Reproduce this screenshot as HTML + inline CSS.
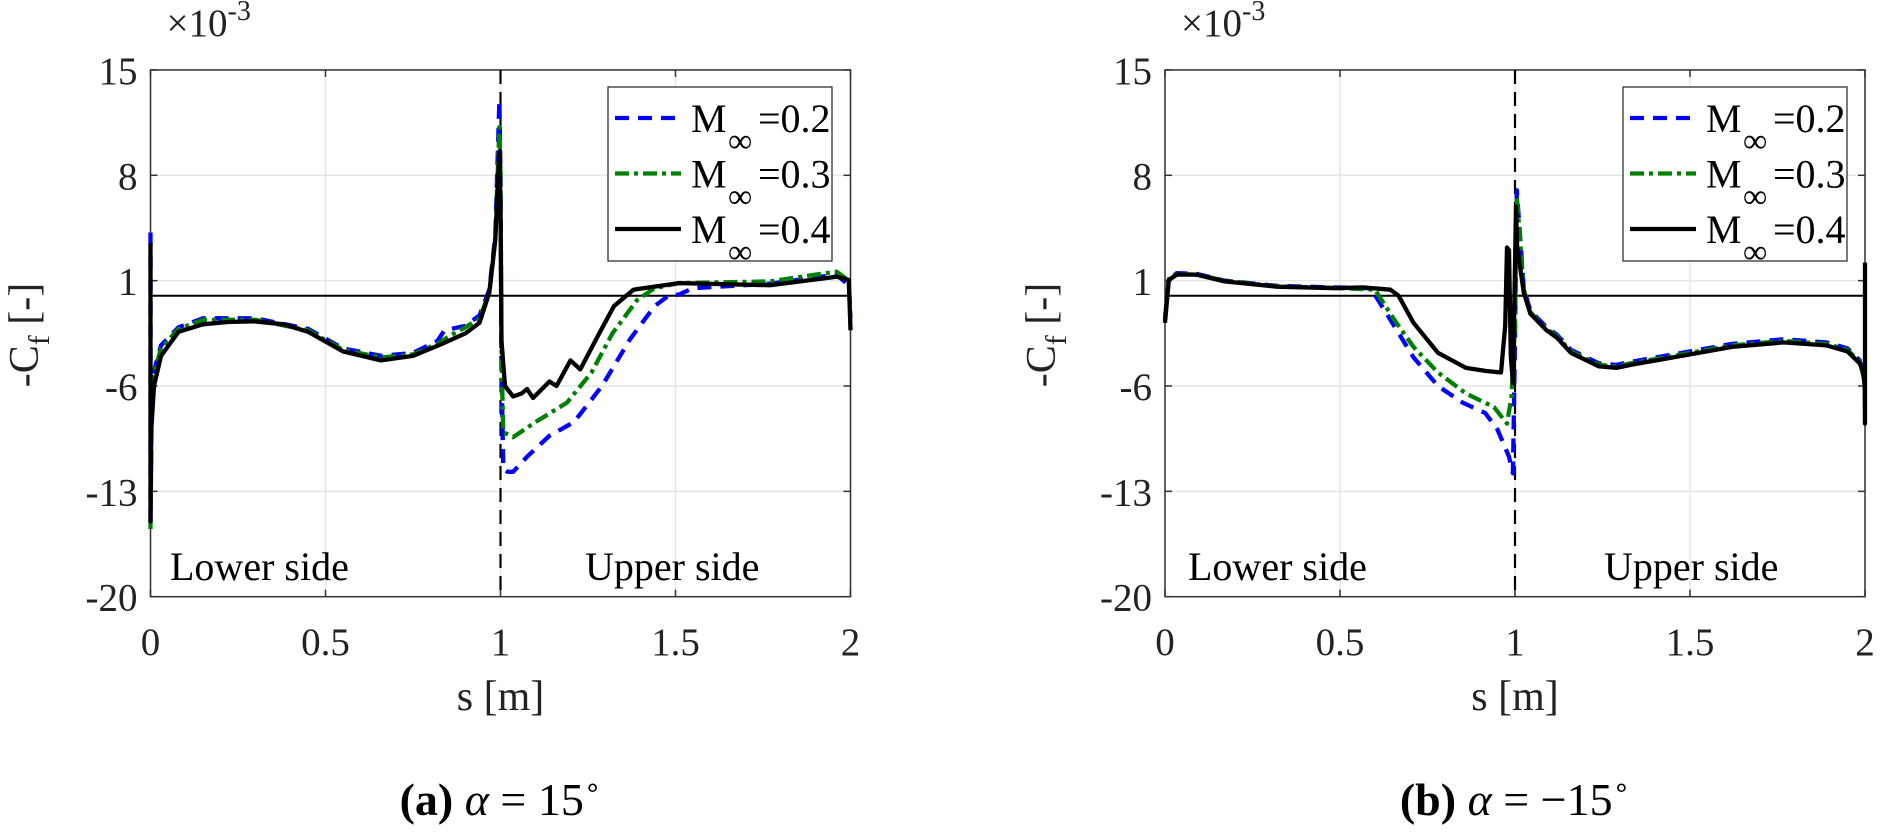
<!DOCTYPE html>
<html><head><meta charset="utf-8">
<style>
body{margin:0;background:#fff;}
svg{display:block;font-family:"Liberation Serif",serif;}
</style></head>
<body>
<svg id="fig" width="1892" height="834" viewBox="0 0 1892 834" xmlns="http://www.w3.org/2000/svg"></svg>
<script>
// ---- shared axis data ----
const yTicks = [15, 8, 1, -6, -13, -20];
const xTicks = [0, 0.5, 1, 1.5, 2];
const xTickLabels = ["0", "0.5", "1", "1.5", "2"];
const seriesNames = ["M0.2", "M0.3", "M0.4"];
const legendValues = ["=0.2", "=0.3", "=0.4"];

// ---- panel (a) alpha = 15 ----
const aS_blue = [0,0,0.003,0.01,0.03,0.08,0.15,0.3,0.45,0.55,0.66,0.75,0.82,0.84,0.9,0.94,0.968,0.985,0.997,1.0,1.003,1.008,1.02,1.036,1.076,1.14,1.21,1.29,1.37,1.44,1.48,1.51,1.55,1.77,1.96,1.995,2.0];
const aV_blue = [4.2,-15,-8,-5,-3.3,-2.1,-1.5,-1.5,-2.2,-3.5,-4.0,-3.8,-3.0,-2.3,-2.0,-1.3,0.4,4.0,13,8,-5,-11.5,-11.7,-11.7,-10.7,-9.3,-8.4,-6.0,-2.9,-0.7,0,0.07,0.5,0.8,1.4,0.7,-1.5];
const aS_green = [0,0,0.003,0.01,0.03,0.08,0.15,0.3,0.45,0.55,0.66,0.75,0.82,0.86,0.9,0.94,0.968,0.985,0.997,1.0,1.003,1.008,1.02,1.036,1.1,1.19,1.26,1.32,1.39,1.44,1.51,1.77,1.96,1.995,2.0];
const aV_green = [-15.5,-15.5,-8,-5.2,-3.5,-2.2,-1.6,-1.6,-2.3,-3.6,-4.1,-3.9,-3.2,-2.6,-2.1,-1.5,0.2,3.8,11.2,8,-4,-9.1,-9.2,-9.4,-8.4,-7.1,-5.1,-2.5,-0.3,0.5,0.84,0.95,1.6,1.0,-1.5];
const aS_black = [0,0,0.002,0.01,0.03,0.08,0.15,0.22,0.296,0.38,0.45,0.55,0.658,0.75,0.838,0.9,0.94,0.968,0.985,0.997,1.0,1.003,1.013,1.036,1.06,1.076,1.093,1.14,1.16,1.2,1.228,1.28,1.324,1.38,1.51,1.77,1.96,1.995,2.0];
const aV_black = [3.5,-15,-9,-6,-4,-2.4,-1.9,-1.75,-1.7,-1.9,-2.4,-3.7,-4.3,-4.0,-3.15,-2.5,-1.8,0.2,3.7,9.6,6,-3,-6,-6.7,-6.5,-6.2,-6.8,-5.7,-6.0,-4.3,-4.9,-2.6,-0.7,0.4,0.84,0.7,1.26,1.05,-2.3];

// ---- panel (b) alpha = -15 ----
const bS_blue = [0,0.011,0.034,0.09,0.17,0.32,0.49,0.588,0.644,0.71,0.78,0.85,0.915,0.95,0.983,0.994,1.0,1.005,1.025,1.044,1.09,1.12,1.16,1.24,1.29,1.33,1.5,1.62,1.767,1.89,1.95,1.985,1.998];
const bV_blue = [-1.5,1.1,1.5,1.45,1.0,0.65,0.55,0.5,-1.6,-4.1,-6.0,-7.1,-7.8,-8.9,-10.7,-11.8,-3,7.0,0.5,-1.0,-2.1,-2.6,-3.6,-4.5,-4.6,-4.4,-3.7,-3.2,-2.9,-3.1,-3.5,-4.3,-5.5];
const bS_green = [0,0.011,0.034,0.09,0.17,0.32,0.49,0.6,0.655,0.71,0.78,0.86,0.94,0.977,0.99,1.0,1.005,1.025,1.044,1.09,1.12,1.16,1.24,1.29,1.33,1.5,1.62,1.767,1.89,1.95,1.985,1.998];
const bV_green = [-1.6,1.1,1.45,1.4,1.0,0.62,0.52,0.4,-1.6,-3.4,-5.1,-6.5,-7.4,-8.5,-6.7,-2,6.6,0.4,-1.1,-2.2,-2.7,-3.7,-4.6,-4.7,-4.5,-3.8,-3.3,-3.0,-3.2,-3.6,-4.4,-5.6];
const bS_black = [0,0.011,0.034,0.09,0.17,0.32,0.49,0.565,0.644,0.667,0.71,0.78,0.86,0.915,0.96,0.972,0.977,0.983,0.988,0.994,1.0,1.003,1.006,1.025,1.044,1.09,1.12,1.16,1.24,1.29,1.33,1.5,1.62,1.767,1.89,1.95,1.985,1.995,1.999,2.0,2.0];
const bV_black = [-1.8,1.05,1.4,1.4,0.95,0.6,0.5,0.55,0.4,0,-1.8,-3.8,-4.8,-5.0,-5.1,-2,3.2,3.0,-4,-5.8,2,5.9,3.3,0.2,-1.2,-2.3,-2.8,-3.8,-4.7,-4.8,-4.6,-3.9,-3.4,-3.1,-3.3,-3.7,-4.5,-5.1,-6,-8.5,2.2];

const NS = "http://www.w3.org/2000/svg";
const svg = document.getElementById("fig");
function mk(tag, attrs, parent, text) {
  const e = document.createElementNS(NS, tag);
  for (const k in attrs) e.setAttribute(k, attrs[k]);
  if (text !== undefined) e.textContent = text;
  (parent || svg).appendChild(e);
  return e;
}
const Y0 = 295.7, YU = 15.05;
function yScale(v) { return Y0 - v * YU; }

const styles = [
  {stroke: "#0000ff", dash: "14 9"},
  {stroke: "#008000", dash: "14 5 4 5"},
  {stroke: "#000000", dash: ""}
];

function drawPanel(px, id, S, V, caption, lowerX, upperX, legX, ylabX) {
  const xScale = s => px + s * 350;
  const left = xScale(0), right = xScale(2), top = yScale(15), bot = yScale(-20);
  const g = mk("g", {});
  
  
  for (const t of xTicks) {
    const l = mk("line", {x1: xScale(t), x2: xScale(t), y1: top, y2: bot, stroke: "#e6e6e6", "stroke-width": 1.5}, g);
    
    
  }
  for (const t of yTicks) {
    const l = mk("line", {x1: left, x2: right, y1: yScale(t), y2: yScale(t), stroke: "#e6e6e6", "stroke-width": 1.5}, g);
    
    
  }
  const z = mk("line", {x1: left, x2: right, y1: yScale(0), y2: yScale(0), stroke: "#000", "stroke-width": 2}, g);
  
  
  const box = mk("rect", {x: left, y: top, width: right - left, height: bot - top, fill: "none", stroke: "#333", "stroke-width": 1.5}, g);
  
  
  for (const t of xTicks) {
    const a = mk("line", {x1: xScale(t), x2: xScale(t), y1: bot, y2: bot - 7, stroke: "#333", "stroke-width": 1.5}, g);
    
    
    const b = mk("line", {x1: xScale(t), x2: xScale(t), y1: top, y2: top + 7, stroke: "#333", "stroke-width": 1.5}, g);
    
    
  }
  for (const t of yTicks) {
    const a = mk("line", {x1: left, x2: left + 7, y1: yScale(t), y2: yScale(t), stroke: "#333", "stroke-width": 1.5}, g);
    
    
    const b = mk("line", {x1: right, x2: right - 7, y1: yScale(t), y2: yScale(t), stroke: "#333", "stroke-width": 1.5}, g);
    
    
  }
  const vd = mk("line", {x1: xScale(1), x2: xScale(1), y1: top, y2: bot, stroke: "#000", "stroke-width": 2.2, "stroke-dasharray": "14 8"}, g);
  
  
  xTicks.forEach((t, i) => {
    const tx = mk("text", {x: xScale(t), y: 655, "font-size": 39, "text-anchor": "middle", fill: "#222"}, g, xTickLabels[i]);
    
    
  });
  yTicks.forEach(t => {
    const tx = mk("text", {x: left - 13, y: yScale(t) + 14, "font-size": 39, "text-anchor": "end", fill: "#222"}, g, String(t));
    
    
  });
  const ex = mk("text", {x: left + 16, y: 36, "font-size": 39, fill: "#222"}, g);
  
  
  mk("tspan", {}, ex, "×10");
  mk("tspan", {dy: -16, "font-size": 28}, ex, "-3");
  const xl = mk("text", {x: (left + right) / 2, y: 710, "font-size": 42, "text-anchor": "middle", fill: "#222"}, g, "s [m]");
  
  
  const yl = mk("text", {x: 0, y: 0, "font-size": 42, "text-anchor": "middle", fill: "#222", transform: `translate(${ylabX},335) rotate(-90)`}, g);
  
  
  mk("tspan", {}, yl, "-C");
  mk("tspan", {dy: 11, "font-size": 30}, yl, "f");
  mk("tspan", {dy: -11}, yl, " [-]");
  const lo = mk("text", {x: lowerX, y: 580, "font-size": 40, fill: "#000"}, g, "Lower side");
  
  
  const up = mk("text", {x: upperX, y: 580, "font-size": 40, fill: "#000"}, g, "Upper side");
  
  
  S.forEach((sArr, k) => {
    const vArr = V[k];
    const pts = sArr.map((s, i) => xScale(s).toFixed(1) + "," + yScale(vArr[i]).toFixed(1)).join(" ");
    const p = mk("polyline", {points: pts, fill: "none", stroke: styles[k].stroke, "stroke-width": 4.3, "stroke-linejoin": "round", "stroke-dasharray": styles[k].dash}, g);
    
    
  });
  const lg = mk("g", {}, g);
  
  
  mk("rect", {x: legX, y: 87, width: 224, height: 174, fill: "#fff", stroke: "#333", "stroke-width": 1.3}, lg);
  legendValues.forEach((lv, k) => {
    const yy = 118 + k * 55.5;
    const en = mk("g", {}, lg);
    
    
    mk("line", {x1: legX + 7, x2: legX + 73, y1: yy, y2: yy, stroke: styles[k].stroke, "stroke-width": 4.3, "stroke-dasharray": styles[k].dash}, en);
    mk("text", {x: legX + 83, y: yy + 14, "font-size": 40, fill: "#000"}, en, "M");
    mk("text", {x: legX + 120, y: yy + 34, "font-size": 34, fill: "#000"}, en, "∞");
    mk("text", {x: legX + 150, y: yy + 14, "font-size": 40, fill: "#000"}, en, lv);
  });
  const cap = mk("text", {x: (left + right) / 2, y: 815, "font-size": 46, "text-anchor": "middle", fill: "#000"}, g);
  
  
  mk("tspan", {"font-weight": "bold"}, cap, "(" + id + ")");
  mk("tspan", {"font-style": "italic"}, cap, " α");
  mk("tspan", {}, cap, caption);
  mk("tspan", {dy: -18, "font-size": 28}, cap, "∘");
}

drawPanel(150.5, "a", [aS_blue, aS_green, aS_black], [aV_blue, aV_green, aV_black], " = 15", 170, 585, 608, 38);
drawPanel(1165, "b", [bS_blue, bS_green, bS_black], [bV_blue, bV_green, bV_black], " = −15", 1188, 1604, 1623, 1055);
</script>
</body></html>
